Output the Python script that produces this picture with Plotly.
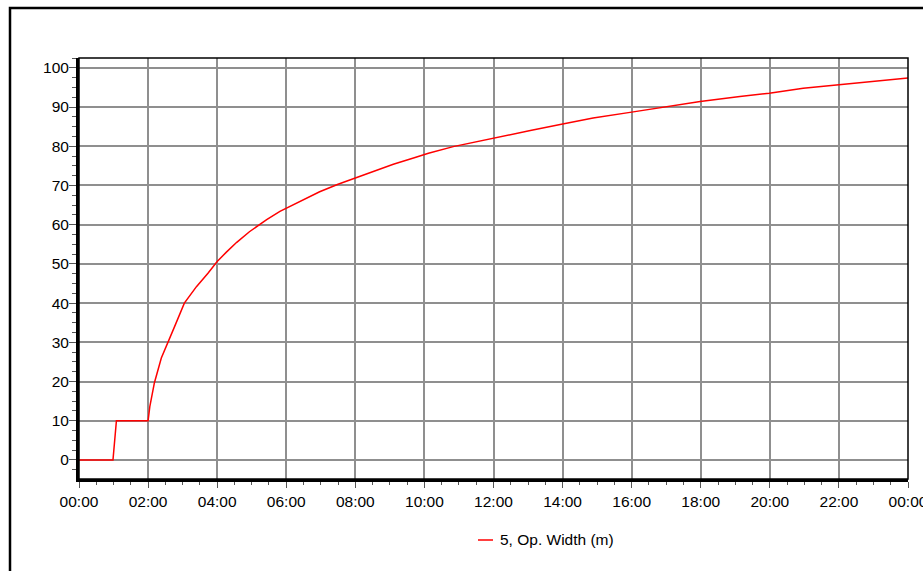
import pandas as pd
import plotly.graph_objects as go

# Opening width of gate 5 over one day (elapsed minutes from 00:00, metres)
elapsed_min = [0, 59, 65, 120, 123, 131, 143, 155, 166, 183, 204, 224, 240,
               256, 274, 296, 326, 349, 383, 418, 450, 479, 511, 546, 581,
               607, 650, 719, 784, 838, 893, 960, 1021, 1079, 1148, 1199,
               1258, 1320, 1380, 1440]
op_width = [0, 0, 10, 10, 13.6, 19.7, 26.0, 30.4, 34.0, 40.0, 44.2, 47.6, 50.6,
            53.0, 55.5, 58.2, 61.3, 63.4, 65.9, 68.4, 70.3, 71.9, 73.5, 75.4, 77.0,
            78.2, 79.9, 82.1, 84.0, 85.6, 87.2, 88.7, 90.1, 91.4, 92.7, 93.5,
            94.8, 95.7, 96.5, 97.4]
series_name = "5, Op. Width (m)"
y_ticks = list(range(0, 101, 10))

day0 = pd.Timestamp("2000-01-01 00:00")
times = [day0 + pd.Timedelta(minutes=m) for m in elapsed_min]

W, H = 923, 571
ML, MR, MT, MB = 79, 15, 58, 92
PW, PH = W - ML - MR, H - MT - MB

def px_x(x):
    return (x - ML) / PW

def px_y(y):
    return (H - MB - y) / PH

FONT = "Liberation Sans, Arial, sans-serif"

fig = go.Figure()
fig.add_trace(go.Scatter(
    x=times, y=op_width, mode="lines", name=series_name,
    line=dict(color="#ff0000", width=1.5), showlegend=False,
))

fig.update_layout(
    width=W, height=H,
    margin=dict(l=ML, r=MR, t=MT, b=MB, pad=0, autoexpand=False),
    paper_bgcolor="white", plot_bgcolor="white",
    font=dict(family=FONT, size=15.5, color="black"),
    xaxis=dict(
        type="date", automargin=False,
        range=[day0, day0 + pd.Timedelta(hours=24)],
        tick0=day0, dtick=2 * 3600 * 1000, tickformat="%H:%M",
        showgrid=True, gridcolor="#8f8f8f", gridwidth=2,
        showline=True, linecolor="black", linewidth=3,
        ticks="outside", ticklen=6, tickwidth=1, tickcolor="#555",
        ticklabeloverflow="allow",
        minor=dict(dtick=30 * 60 * 1000, ticks="outside", ticklen=3,
                   tickcolor="#555", showgrid=False),
        zeroline=False,
    ),
    yaxis=dict(
        automargin=False,
        range=[-4.85, 102.5],
        tickvals=y_ticks,
        showgrid=True, gridcolor="#8f8f8f", gridwidth=2,
        showline=True, linecolor="black", linewidth=3,
        ticks="outside", ticklen=7, tickwidth=1, tickcolor="#555",
        ticklabelstandoff=-3,
        minor=dict(dtick=2.5, tick0=0, ticks="outside", ticklen=4,
                   tickcolor="#555", showgrid=False),
        zeroline=False,
    ),
    shapes=[
        # outer frame
        dict(type="rect", xref="paper", yref="paper",
             x0=px_x(10), y0=-0.6, x1=1.3, y1=px_y(8),
             line=dict(color="black", width=2.5), layer="above"),
        # plot frame (top / right)
        dict(type="rect", xref="paper", yref="paper",
             x0=0, y0=0, x1=1, y1=1,
             line=dict(color="black", width=1.5), layer="above"),
        # legend sample line
        dict(type="line", xref="paper", yref="paper",
             x0=px_x(478), x1=px_x(493), y0=px_y(540), y1=px_y(540),
             line=dict(color="#ff0000", width=1.5)),
    ],
    annotations=[
        dict(text=series_name, xref="paper", yref="paper",
             x=px_x(498), y=px_y(539), xanchor="left", yanchor="middle",
             showarrow=False, font=dict(family=FONT, size=15.5, color="black")),
    ],
)

fig.write_html("out.html")
